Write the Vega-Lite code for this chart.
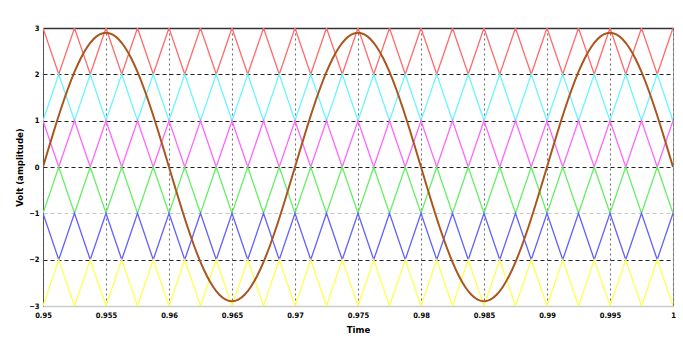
{
  "$schema": "https://vega.github.io/schema/vega-lite/v6.json",
  "width": 630,
  "height": 278,
  "autosize": {"type": "none"},
  "padding": {"left": 43, "top": 28, "right": 10, "bottom": 35},
  "background": "white",
  "config": {
    "view": {"stroke": "#9a9a9a", "strokeWidth": 1},
    "font": "DejaVu Sans",
    "axis": {"labelFont": "DejaVu Sans Condensed", "labelFontWeight": "bold", "labelFontSize": 7.5, "labelColor": "#000", "titleFont": "DejaVu Sans Condensed", "titleFontWeight": "bold", "titleFontSize": 9.5, "titleColor": "#000"}
  },
  "datasets": {
    "carriers": [
      {"t":0.95,"v":3,"c":"r"},{"t":0.95125,"v":2,"c":"r"},{"t":0.9525,"v":3,"c":"r"},{"t":0.95375,"v":2,"c":"r"},{"t":0.955,"v":3,"c":"r"},{"t":0.95625,"v":2,"c":"r"},{"t":0.9575,"v":3,"c":"r"},{"t":0.95875,"v":2,"c":"r"},{"t":0.96,"v":3,"c":"r"},{"t":0.96125,"v":2,"c":"r"},{"t":0.9625,"v":3,"c":"r"},{"t":0.96375,"v":2,"c":"r"},{"t":0.965,"v":3,"c":"r"},{"t":0.96625,"v":2,"c":"r"},{"t":0.9675,"v":3,"c":"r"},{"t":0.96875,"v":2,"c":"r"},{"t":0.97,"v":3,"c":"r"},{"t":0.97125,"v":2,"c":"r"},{"t":0.9725,"v":3,"c":"r"},{"t":0.97375,"v":2,"c":"r"},{"t":0.975,"v":3,"c":"r"},{"t":0.97625,"v":2,"c":"r"},{"t":0.9775,"v":3,"c":"r"},{"t":0.97875,"v":2,"c":"r"},{"t":0.98,"v":3,"c":"r"},{"t":0.98125,"v":2,"c":"r"},{"t":0.9825,"v":3,"c":"r"},{"t":0.98375,"v":2,"c":"r"},{"t":0.985,"v":3,"c":"r"},{"t":0.98625,"v":2,"c":"r"},{"t":0.9875,"v":3,"c":"r"},{"t":0.98875,"v":2,"c":"r"},{"t":0.99,"v":3,"c":"r"},{"t":0.99125,"v":2,"c":"r"},{"t":0.9925,"v":3,"c":"r"},{"t":0.99375,"v":2,"c":"r"},{"t":0.995,"v":3,"c":"r"},{"t":0.99625,"v":2,"c":"r"},{"t":0.9975,"v":3,"c":"r"},{"t":0.99875,"v":2,"c":"r"},{"t":1,"v":3,"c":"r"},
      {"t":0.95,"v":1,"c":"c"},{"t":0.95125,"v":2,"c":"c"},{"t":0.9525,"v":1,"c":"c"},{"t":0.95375,"v":2,"c":"c"},{"t":0.955,"v":1,"c":"c"},{"t":0.95625,"v":2,"c":"c"},{"t":0.9575,"v":1,"c":"c"},{"t":0.95875,"v":2,"c":"c"},{"t":0.96,"v":1,"c":"c"},{"t":0.96125,"v":2,"c":"c"},{"t":0.9625,"v":1,"c":"c"},{"t":0.96375,"v":2,"c":"c"},{"t":0.965,"v":1,"c":"c"},{"t":0.96625,"v":2,"c":"c"},{"t":0.9675,"v":1,"c":"c"},{"t":0.96875,"v":2,"c":"c"},{"t":0.97,"v":1,"c":"c"},{"t":0.97125,"v":2,"c":"c"},{"t":0.9725,"v":1,"c":"c"},{"t":0.97375,"v":2,"c":"c"},{"t":0.975,"v":1,"c":"c"},{"t":0.97625,"v":2,"c":"c"},{"t":0.9775,"v":1,"c":"c"},{"t":0.97875,"v":2,"c":"c"},{"t":0.98,"v":1,"c":"c"},{"t":0.98125,"v":2,"c":"c"},{"t":0.9825,"v":1,"c":"c"},{"t":0.98375,"v":2,"c":"c"},{"t":0.985,"v":1,"c":"c"},{"t":0.98625,"v":2,"c":"c"},{"t":0.9875,"v":1,"c":"c"},{"t":0.98875,"v":2,"c":"c"},{"t":0.99,"v":1,"c":"c"},{"t":0.99125,"v":2,"c":"c"},{"t":0.9925,"v":1,"c":"c"},{"t":0.99375,"v":2,"c":"c"},{"t":0.995,"v":1,"c":"c"},{"t":0.99625,"v":2,"c":"c"},{"t":0.9975,"v":1,"c":"c"},{"t":0.99875,"v":2,"c":"c"},{"t":1,"v":1,"c":"c"},
      {"t":0.95,"v":1,"c":"m"},{"t":0.95125,"v":0,"c":"m"},{"t":0.9525,"v":1,"c":"m"},{"t":0.95375,"v":0,"c":"m"},{"t":0.955,"v":1,"c":"m"},{"t":0.95625,"v":0,"c":"m"},{"t":0.9575,"v":1,"c":"m"},{"t":0.95875,"v":0,"c":"m"},{"t":0.96,"v":1,"c":"m"},{"t":0.96125,"v":0,"c":"m"},{"t":0.9625,"v":1,"c":"m"},{"t":0.96375,"v":0,"c":"m"},{"t":0.965,"v":1,"c":"m"},{"t":0.96625,"v":0,"c":"m"},{"t":0.9675,"v":1,"c":"m"},{"t":0.96875,"v":0,"c":"m"},{"t":0.97,"v":1,"c":"m"},{"t":0.97125,"v":0,"c":"m"},{"t":0.9725,"v":1,"c":"m"},{"t":0.97375,"v":0,"c":"m"},{"t":0.975,"v":1,"c":"m"},{"t":0.97625,"v":0,"c":"m"},{"t":0.9775,"v":1,"c":"m"},{"t":0.97875,"v":0,"c":"m"},{"t":0.98,"v":1,"c":"m"},{"t":0.98125,"v":0,"c":"m"},{"t":0.9825,"v":1,"c":"m"},{"t":0.98375,"v":0,"c":"m"},{"t":0.985,"v":1,"c":"m"},{"t":0.98625,"v":0,"c":"m"},{"t":0.9875,"v":1,"c":"m"},{"t":0.98875,"v":0,"c":"m"},{"t":0.99,"v":1,"c":"m"},{"t":0.99125,"v":0,"c":"m"},{"t":0.9925,"v":1,"c":"m"},{"t":0.99375,"v":0,"c":"m"},{"t":0.995,"v":1,"c":"m"},{"t":0.99625,"v":0,"c":"m"},{"t":0.9975,"v":1,"c":"m"},{"t":0.99875,"v":0,"c":"m"},{"t":1,"v":1,"c":"m"},
      {"t":0.95,"v":-1,"c":"g"},{"t":0.95125,"v":0,"c":"g"},{"t":0.9525,"v":-1,"c":"g"},{"t":0.95375,"v":0,"c":"g"},{"t":0.955,"v":-1,"c":"g"},{"t":0.95625,"v":0,"c":"g"},{"t":0.9575,"v":-1,"c":"g"},{"t":0.95875,"v":0,"c":"g"},{"t":0.96,"v":-1,"c":"g"},{"t":0.96125,"v":0,"c":"g"},{"t":0.9625,"v":-1,"c":"g"},{"t":0.96375,"v":0,"c":"g"},{"t":0.965,"v":-1,"c":"g"},{"t":0.96625,"v":0,"c":"g"},{"t":0.9675,"v":-1,"c":"g"},{"t":0.96875,"v":0,"c":"g"},{"t":0.97,"v":-1,"c":"g"},{"t":0.97125,"v":0,"c":"g"},{"t":0.9725,"v":-1,"c":"g"},{"t":0.97375,"v":0,"c":"g"},{"t":0.975,"v":-1,"c":"g"},{"t":0.97625,"v":0,"c":"g"},{"t":0.9775,"v":-1,"c":"g"},{"t":0.97875,"v":0,"c":"g"},{"t":0.98,"v":-1,"c":"g"},{"t":0.98125,"v":0,"c":"g"},{"t":0.9825,"v":-1,"c":"g"},{"t":0.98375,"v":0,"c":"g"},{"t":0.985,"v":-1,"c":"g"},{"t":0.98625,"v":0,"c":"g"},{"t":0.9875,"v":-1,"c":"g"},{"t":0.98875,"v":0,"c":"g"},{"t":0.99,"v":-1,"c":"g"},{"t":0.99125,"v":0,"c":"g"},{"t":0.9925,"v":-1,"c":"g"},{"t":0.99375,"v":0,"c":"g"},{"t":0.995,"v":-1,"c":"g"},{"t":0.99625,"v":0,"c":"g"},{"t":0.9975,"v":-1,"c":"g"},{"t":0.99875,"v":0,"c":"g"},{"t":1,"v":-1,"c":"g"},
      {"t":0.95,"v":-1,"c":"b"},{"t":0.95125,"v":-2,"c":"b"},{"t":0.9525,"v":-1,"c":"b"},{"t":0.95375,"v":-2,"c":"b"},{"t":0.955,"v":-1,"c":"b"},{"t":0.95625,"v":-2,"c":"b"},{"t":0.9575,"v":-1,"c":"b"},{"t":0.95875,"v":-2,"c":"b"},{"t":0.96,"v":-1,"c":"b"},{"t":0.96125,"v":-2,"c":"b"},{"t":0.9625,"v":-1,"c":"b"},{"t":0.96375,"v":-2,"c":"b"},{"t":0.965,"v":-1,"c":"b"},{"t":0.96625,"v":-2,"c":"b"},{"t":0.9675,"v":-1,"c":"b"},{"t":0.96875,"v":-2,"c":"b"},{"t":0.97,"v":-1,"c":"b"},{"t":0.97125,"v":-2,"c":"b"},{"t":0.9725,"v":-1,"c":"b"},{"t":0.97375,"v":-2,"c":"b"},{"t":0.975,"v":-1,"c":"b"},{"t":0.97625,"v":-2,"c":"b"},{"t":0.9775,"v":-1,"c":"b"},{"t":0.97875,"v":-2,"c":"b"},{"t":0.98,"v":-1,"c":"b"},{"t":0.98125,"v":-2,"c":"b"},{"t":0.9825,"v":-1,"c":"b"},{"t":0.98375,"v":-2,"c":"b"},{"t":0.985,"v":-1,"c":"b"},{"t":0.98625,"v":-2,"c":"b"},{"t":0.9875,"v":-1,"c":"b"},{"t":0.98875,"v":-2,"c":"b"},{"t":0.99,"v":-1,"c":"b"},{"t":0.99125,"v":-2,"c":"b"},{"t":0.9925,"v":-1,"c":"b"},{"t":0.99375,"v":-2,"c":"b"},{"t":0.995,"v":-1,"c":"b"},{"t":0.99625,"v":-2,"c":"b"},{"t":0.9975,"v":-1,"c":"b"},{"t":0.99875,"v":-2,"c":"b"},{"t":1,"v":-1,"c":"b"},
      {"t":0.95,"v":-3,"c":"y"},{"t":0.95125,"v":-2,"c":"y"},{"t":0.9525,"v":-3,"c":"y"},{"t":0.95375,"v":-2,"c":"y"},{"t":0.955,"v":-3,"c":"y"},{"t":0.95625,"v":-2,"c":"y"},{"t":0.9575,"v":-3,"c":"y"},{"t":0.95875,"v":-2,"c":"y"},{"t":0.96,"v":-3,"c":"y"},{"t":0.96125,"v":-2,"c":"y"},{"t":0.9625,"v":-3,"c":"y"},{"t":0.96375,"v":-2,"c":"y"},{"t":0.965,"v":-3,"c":"y"},{"t":0.96625,"v":-2,"c":"y"},{"t":0.9675,"v":-3,"c":"y"},{"t":0.96875,"v":-2,"c":"y"},{"t":0.97,"v":-3,"c":"y"},{"t":0.97125,"v":-2,"c":"y"},{"t":0.9725,"v":-3,"c":"y"},{"t":0.97375,"v":-2,"c":"y"},{"t":0.975,"v":-3,"c":"y"},{"t":0.97625,"v":-2,"c":"y"},{"t":0.9775,"v":-3,"c":"y"},{"t":0.97875,"v":-2,"c":"y"},{"t":0.98,"v":-3,"c":"y"},{"t":0.98125,"v":-2,"c":"y"},{"t":0.9825,"v":-3,"c":"y"},{"t":0.98375,"v":-2,"c":"y"},{"t":0.985,"v":-3,"c":"y"},{"t":0.98625,"v":-2,"c":"y"},{"t":0.9875,"v":-3,"c":"y"},{"t":0.98875,"v":-2,"c":"y"},{"t":0.99,"v":-3,"c":"y"},{"t":0.99125,"v":-2,"c":"y"},{"t":0.9925,"v":-3,"c":"y"},{"t":0.99375,"v":-2,"c":"y"},{"t":0.995,"v":-3,"c":"y"},{"t":0.99625,"v":-2,"c":"y"},{"t":0.9975,"v":-3,"c":"y"},{"t":0.99875,"v":-2,"c":"y"},{"t":1,"v":-3,"c":"y"}
    ],
    "sine": [
      {"t":0.95,"v":0},{"t":0.9505,"v":0.454},{"t":0.951,"v":0.896},{"t":0.9515,"v":1.317},{"t":0.952,"v":1.705},{"t":0.9525,"v":2.051},{"t":0.953,"v":2.346},{"t":0.9535,"v":2.584},{"t":0.954,"v":2.758},{"t":0.9545,"v":2.864},
      {"t":0.955,"v":2.9},{"t":0.9555,"v":2.864},{"t":0.956,"v":2.758},{"t":0.9565,"v":2.584},{"t":0.957,"v":2.346},{"t":0.9575,"v":2.051},{"t":0.958,"v":1.705},{"t":0.9585,"v":1.317},{"t":0.959,"v":0.896},{"t":0.9595,"v":0.454},
      {"t":0.96,"v":0},{"t":0.9605,"v":-0.454},{"t":0.961,"v":-0.896},{"t":0.9615,"v":-1.317},{"t":0.962,"v":-1.705},{"t":0.9625,"v":-2.051},{"t":0.963,"v":-2.346},{"t":0.9635,"v":-2.584},{"t":0.964,"v":-2.758},{"t":0.9645,"v":-2.864},
      {"t":0.965,"v":-2.9},{"t":0.9655,"v":-2.864},{"t":0.966,"v":-2.758},{"t":0.9665,"v":-2.584},{"t":0.967,"v":-2.346},{"t":0.9675,"v":-2.051},{"t":0.968,"v":-1.705},{"t":0.9685,"v":-1.317},{"t":0.969,"v":-0.896},{"t":0.9695,"v":-0.454},
      {"t":0.97,"v":0},{"t":0.9705,"v":0.454},{"t":0.971,"v":0.896},{"t":0.9715,"v":1.317},{"t":0.972,"v":1.705},{"t":0.9725,"v":2.051},{"t":0.973,"v":2.346},{"t":0.9735,"v":2.584},{"t":0.974,"v":2.758},{"t":0.9745,"v":2.864},
      {"t":0.975,"v":2.9},{"t":0.9755,"v":2.864},{"t":0.976,"v":2.758},{"t":0.9765,"v":2.584},{"t":0.977,"v":2.346},{"t":0.9775,"v":2.051},{"t":0.978,"v":1.705},{"t":0.9785,"v":1.317},{"t":0.979,"v":0.896},{"t":0.9795,"v":0.454},
      {"t":0.98,"v":0},{"t":0.9805,"v":-0.454},{"t":0.981,"v":-0.896},{"t":0.9815,"v":-1.317},{"t":0.982,"v":-1.705},{"t":0.9825,"v":-2.051},{"t":0.983,"v":-2.346},{"t":0.9835,"v":-2.584},{"t":0.984,"v":-2.758},{"t":0.9845,"v":-2.864},
      {"t":0.985,"v":-2.9},{"t":0.9855,"v":-2.864},{"t":0.986,"v":-2.758},{"t":0.9865,"v":-2.584},{"t":0.987,"v":-2.346},{"t":0.9875,"v":-2.051},{"t":0.988,"v":-1.705},{"t":0.9885,"v":-1.317},{"t":0.989,"v":-0.896},{"t":0.9895,"v":-0.454},
      {"t":0.99,"v":0},{"t":0.9905,"v":0.454},{"t":0.991,"v":0.896},{"t":0.9915,"v":1.317},{"t":0.992,"v":1.705},{"t":0.9925,"v":2.051},{"t":0.993,"v":2.346},{"t":0.9935,"v":2.584},{"t":0.994,"v":2.758},{"t":0.9945,"v":2.864},
      {"t":0.995,"v":2.9},{"t":0.9955,"v":2.864},{"t":0.996,"v":2.758},{"t":0.9965,"v":2.584},{"t":0.997,"v":2.346},{"t":0.9975,"v":2.051},{"t":0.998,"v":1.705},{"t":0.9985,"v":1.317},{"t":0.999,"v":0.896},{"t":0.9995,"v":0.454},
      {"t":1,"v":0}
    ]
  },
  "layer": [
    {
      "data": {"name": "carriers"},
      "mark": {"type": "line", "strokeWidth": 1.3, "clip": true},
      "encoding": {
        "x": {"field": "t", "type": "quantitative", "scale": {"domain": [0.95, 1], "nice": false, "zero": false},
          "axis": {"orient": "bottom", "title": "Time", "values": [0.95,0.955,0.96,0.965,0.97,0.975,0.98,0.985,0.99,0.995,1], "format": "~g", "labelPadding": 5, "ticks": false, "domain": true, "domainColor": "#cccccc", "domainWidth": 1.5, "grid": true, "gridColor": "#6f6f6f", "gridDash": [2, 3], "gridWidth": 1.1, "titlePadding": 6, "labelFlush": false}},
        "y": {"field": "v", "type": "quantitative", "scale": {"domain": [-3, 3], "nice": false, "zero": false},
          "axis": {"title": "Volt (amplitude)", "values": [-3,-2,-1,0,1,2,3], "format": "d", "ticks": false, "labelPadding": 4, "domainColor": "#555555", "grid": true,
            "gridColor": {"condition": {"test": "datum.value === -1 || datum.value === -3", "value": "#c8c8c8"}, "value": "#222222"},
            "gridDash": [4, 3], "gridWidth": 1.2, "titlePadding": 4}},
        "color": {"field": "c", "type": "nominal", "legend": null,
          "scale": {"domain": ["r","c","m","g","b","y"], "range": ["#ff6a6a","#6af5ff","#ff66ff","#66ee66","#6060ff","#ffff55"]}},
        "detail": {"field": "c"}
      }
    },
    {
      "data": {"name": "sine"},
      "mark": {"type": "line", "strokeWidth": 2, "color": "#a9561e", "interpolate": "monotone", "clip": true},
      "encoding": {
        "x": {"field": "t", "type": "quantitative", "axis": {"orient": "top", "title": null, "labels": false, "ticks": false, "grid": false, "domainColor": "#333333", "domainWidth": 1.5}},
        "y": {"field": "v", "type": "quantitative"}
      }
    }
  ],
  "resolve": {"axis": {"x": "independent"}}
}
